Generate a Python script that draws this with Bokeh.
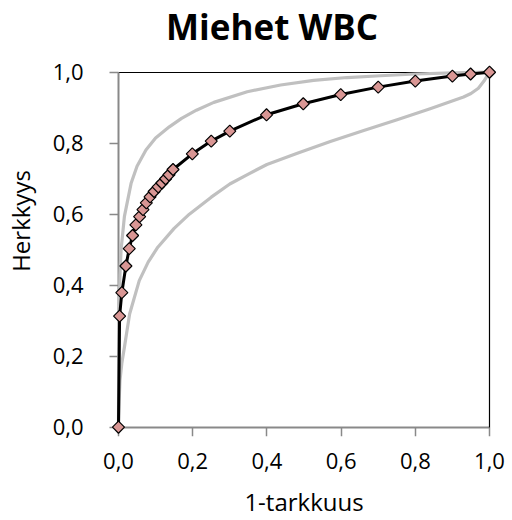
import numpy as np
from bokeh.plotting import figure
from bokeh.models import LinearAxis, FixedTicker, Range1d, Label
from bokeh.embed import file_html
from bokeh.resources import INLINE

# ROC curve (1-specificity, sensitivity)
roc_x = [0.0, 0.003, 0.009, 0.020, 0.029, 0.038, 0.047, 0.057, 0.066, 0.075,
         0.085, 0.096, 0.107, 0.117, 0.127, 0.136, 0.147, 0.199, 0.250, 0.300,
         0.399, 0.498, 0.599, 0.700, 0.800, 0.900, 0.949, 1.0]
roc_y = [0.0, 0.313, 0.379, 0.454, 0.503, 0.540, 0.570, 0.593, 0.613, 0.632,
         0.649, 0.664, 0.677, 0.688, 0.700, 0.711, 0.726, 0.770, 0.806, 0.834,
         0.880, 0.911, 0.937, 0.958, 0.975, 0.989, 0.995, 1.0]

# Confidence band (upper and lower)
upper_x = [0.0, 0.0005, 0.002, 0.004, 0.007, 0.016, 0.034, 0.050, 0.074, 0.100,
           0.137, 0.170, 0.210, 0.257, 0.347, 0.437, 0.526, 0.616, 0.706, 0.800,
           0.900, 1.0]
upper_y = [0.0, 0.15, 0.32, 0.43, 0.50, 0.594, 0.687, 0.735, 0.781, 0.815,
           0.846, 0.870, 0.893, 0.915, 0.945, 0.964, 0.977, 0.985, 0.990, 0.995,
           0.998, 1.0]
lower_x = [0.0, 0.0005, 0.002, 0.004, 0.009, 0.016, 0.030, 0.056, 0.080, 0.106,
           0.150, 0.191, 0.250, 0.300, 0.350, 0.400, 0.482, 0.571, 0.661, 0.751,
           0.840, 0.930, 0.950, 0.970, 0.985, 1.0]
lower_y = [0.0, 0.03, 0.08, 0.131, 0.18, 0.225, 0.319, 0.413, 0.465, 0.507,
           0.560, 0.600, 0.648, 0.685, 0.713, 0.740, 0.772, 0.805, 0.836, 0.866,
           0.897, 0.930, 0.940, 0.955, 0.975, 1.0]

ticks = [0.0, 0.2, 0.4, 0.6, 0.8, 1.0]
tick_labels = ["0,0", "0,2", "0,4", "0,6", "0,8", "1,0"]
title_text = "Miehet WBC"
x_label = "1-tarkkuus"
y_label = "Herkkyys"

FONT = "Open Sans"
PX = 0.0269
Y_BOT = -0.0262
Y_TOP = 1.1879   # invisible frame extends up to hold the title

p = figure(width=512, height=520,
           x_range=Range1d(-PX, 1 + PX), y_range=Range1d(Y_BOT, Y_TOP),
           output_backend="svg", toolbar_location=None,
           x_axis_location=None, y_axis_location=None,
           min_border_left=108, min_border_right=13,
           min_border_top=5, min_border_bottom=84)
p.outline_line_color = None
p.xgrid.visible = False
p.ygrid.visible = False

# axis lines + ticks drawn at x=0 / y=0 (inside padded frame)
line_kw = dict(ticker=FixedTicker(ticks=ticks), fixed_location=0, bounds=(0, 1),
               axis_line_color="#898989", axis_line_width=2,
               major_tick_line_color="#898989", major_tick_line_width=1.5,
               major_tick_in=0, major_tick_out=9,
               minor_tick_line_color=None, major_label_text_color=None)
p.add_layout(LinearAxis(**line_kw), "below")
p.add_layout(LinearAxis(**line_kw), "left")

# tick labels + axis titles (axes at frame edge, no line/ticks)
overrides = dict(zip(ticks, tick_labels))
lab_kw = dict(ticker=FixedTicker(ticks=ticks), major_label_overrides=overrides,
              axis_line_color=None, major_tick_line_color=None,
              minor_tick_line_color=None, major_tick_in=0, major_tick_out=0,
              minor_tick_in=0, minor_tick_out=0,
              major_label_text_font=FONT, major_label_text_font_size="22px",
              major_label_text_color="black",
              axis_label_text_font=FONT, axis_label_text_font_size="24px",
              axis_label_text_font_style="normal",
              axis_label_text_color="black")
p.add_layout(LinearAxis(axis_label=x_label, major_label_standoff=16,
                        axis_label_standoff=13, **lab_kw), "below")
p.add_layout(LinearAxis(axis_label=y_label, major_label_standoff=25,
                        axis_label_standoff=13, **lab_kw), "left")

# black top/right border
border_kw = dict(ticker=FixedTicker(ticks=[]), fixed_location=1, bounds=(0, 1),
                 axis_line_color="black", axis_line_width=1.2,
                 major_tick_line_color=None, minor_tick_line_color=None,
                 major_tick_in=0, major_tick_out=0,
                 minor_tick_in=0, minor_tick_out=0,
                 major_label_standoff=0,
                 major_label_text_color=None)
p.add_layout(LinearAxis(**border_kw), "above")
p.add_layout(LinearAxis(**border_kw), "right")

r1 = p.line(upper_x, upper_y, line_color="#c0c0c0", line_width=3.2, line_join="round")
r2 = p.line(lower_x, lower_y, line_color="#c0c0c0", line_width=3.2, line_join="round")
r3 = p.line(roc_x, roc_y, line_color="black", line_width=3, line_join="round")
r4 = p.scatter(roc_x, roc_y, marker="square", angle=np.pi / 4, size=8.5,
               fill_color="#d99694", line_color="black", line_width=1.2)
for r in (r1, r2, r3, r4):
    r.level = "annotation"

# title inside the (invisible) upper part of the frame
p.add_layout(Label(x=0.414, y=1.13, text=title_text, text_font=FONT,
                   text_font_style="bold", text_font_size="35px",
                   text_align="center", text_baseline="alphabetic",
                   text_color="black"))

open("out.html", "w").write(file_html(p, INLINE))
